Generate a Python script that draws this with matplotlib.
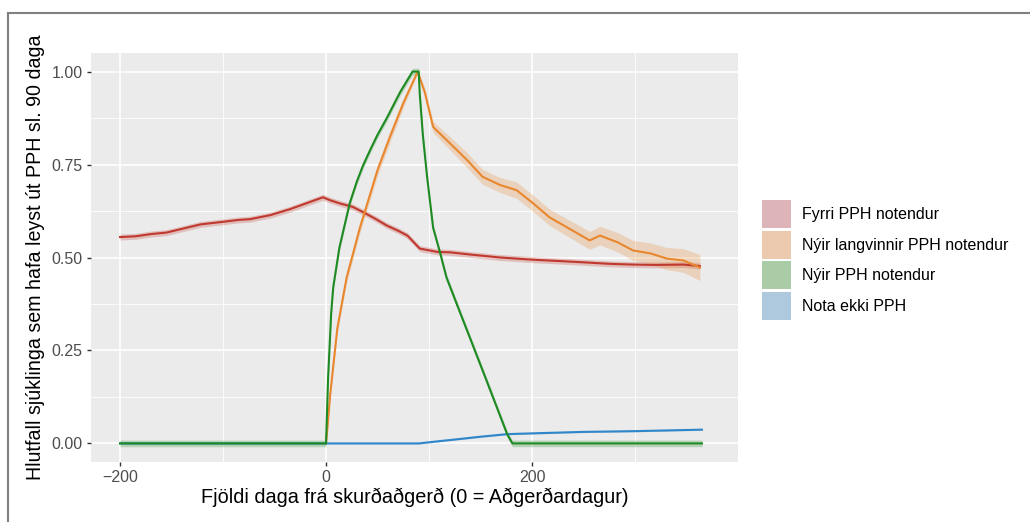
import matplotlib
matplotlib.use("Agg")
import matplotlib.pyplot as plt
import numpy as np
from matplotlib.patches import Rectangle
from matplotlib.lines import Line2D

plt.rcParams['font.family'] = ['Liberation Sans', 'DejaVu Sans']

# Fyrri PPH notendur
red_days = [-200, -185, -170, -155, -140, -122, -100, -85, -74, -54, -35, -15, -3,
            4, 14, 26, 36, 48, 59, 70, 79, 91, 108, 120, 140, 169, 201, 230, 250,
            275, 298, 320, 347, 363]
red_vals = [0.555, 0.557, 0.563, 0.567, 0.577, 0.589, 0.596, 0.601, 0.603, 0.614, 0.630, 0.650, 0.662,
            0.654, 0.645, 0.636, 0.622, 0.604, 0.586, 0.572, 0.559, 0.524, 0.515, 0.514, 0.508, 0.500,
            0.494, 0.490, 0.487, 0.483, 0.481, 0.480, 0.481, 0.477]
red_err = 0.008

# Nýir langvinnir PPH notendur
orange_days = [0, 1, 4, 11, 20, 33, 50, 62, 75, 89, 96, 104, 120, 137, 152, 169, 185,
               201, 217, 234, 256, 266, 283, 298, 315, 331, 347, 363]
orange_vals = [0.0, 0.03, 0.13, 0.31, 0.446, 0.581, 0.735, 0.824, 0.915, 1.0, 0.943, 0.851,
               0.808, 0.762, 0.717, 0.695, 0.681, 0.646, 0.608, 0.581, 0.546, 0.559, 0.541,
               0.519, 0.511, 0.497, 0.492, 0.473]
orange_err = [0.0, 0.005, 0.01, 0.012, 0.013, 0.014, 0.015, 0.015, 0.012, 0.005, 0.012, 0.015,
              0.018, 0.02, 0.02, 0.02, 0.022, 0.022, 0.022, 0.023, 0.024, 0.025, 0.026,
              0.027, 0.028, 0.03, 0.032, 0.035]

# Nýir PPH notendur
green_days = [-200, 0, 2, 5, 7, 13, 23, 30, 36, 43, 50, 59, 72, 84, 90, 91, 94, 98, 104, 111,
              117, 130, 140, 156, 176, 181, 365]
green_vals = [0.0, 0.0, 0.176, 0.35, 0.42, 0.527, 0.646, 0.705, 0.748, 0.79, 0.83, 0.875, 0.945,
              1.0, 1.0, 0.94, 0.83, 0.72, 0.58, 0.51, 0.446, 0.353, 0.282, 0.168, 0.024, 0.0, 0.0]
green_err = 0.009

# Nota ekki PPH
blue_days = [-200, 90, 120, 150, 176, 200, 250, 300, 365]
blue_vals = [0.0, 0.0, 0.009, 0.018, 0.025, 0.027, 0.031, 0.033, 0.037]
blue_err = 0.002

labels = ["Fyrri PPH notendur", "Nýir langvinnir PPH notendur", "Nýir PPH notendur", "Nota ekki PPH"]
line_cols = ["#C0392F", "#E8872E", "#1E8A22", "#2F86C9"]
fill_cols = ["#DDB4B7", "#EBCAB0", "#A9CBA6", "#AEC8DE"]

W, H = 1030, 522
fig = plt.figure(figsize=(W / 100, H / 100), dpi=100)
ax = fig.add_axes([91/W, 1-462/H, 647/W, 409/H])
ax.set_facecolor("#EBEBEB")

series = [
    (red_days, red_vals, red_err),
    (orange_days, orange_vals, orange_err),
    (blue_days, blue_vals, blue_err),
    (green_days, green_vals, green_err),
]
order = [0, 1, 3, 2]
for (d, v, e), i in zip(series, order):
    d = np.array(d, float)
    v = np.array(v, float)
    e = np.broadcast_to(np.array(e, float), v.shape)
    ax.fill_between(d, v - e, v + e, color=line_cols[i], alpha=0.25, lw=0, zorder=2)
    ax.plot(d, v, color=line_cols[i], lw=1.5, zorder=3)

ax.set_xlim(-228.2, 400)
ax.set_ylim(-0.05, 1.05)
ax.set_xticks([-200, 0, 200])
ax.set_xticklabels(["\u2212200", "0", "200"])
ax.set_xticks([-100, 100, 300], minor=True)
ax.set_yticks([0, 0.25, 0.5, 0.75, 1.0])
ax.set_yticklabels(["0.00", "0.25", "0.50", "0.75", "1.00"])
ax.set_yticks([0.125, 0.375, 0.625, 0.875], minor=True)
ax.grid(which="major", color="white", lw=1.2)
ax.grid(which="minor", color="white", lw=0.6)
ax.set_axisbelow(True)
for s in ax.spines.values():
    s.set_visible(False)
ax.tick_params(which="major", length=3, width=1, color="#333333", labelcolor="#4D4D4D",
               labelsize=11.5, pad=3)
ax.tick_params(which="minor", length=0)

ax.set_xlabel("Fjöldi daga frá skurðaðgerð (0 = Aðgerðardagur)", fontsize=14.3, labelpad=2)
ax.set_ylabel("Hlutfall sjúklinga sem hafa leyst út PPH sl. 90 daga", fontsize=14.1, labelpad=5)

# legend, drawn by hand
for k, (lab, c) in enumerate(zip(labels, fill_cols)):
    top = 200 + k * 30.7
    fig.add_artist(Rectangle((762/W, 1-(top+28)/H), 29/W, 28/H, facecolor=c,
                             edgecolor="none", transform=fig.transFigure))
    fig.text(802/W, 1-(top+14.5)/H, lab, fontsize=11.5, va="center", ha="left")

# outer frame
fig.add_artist(Line2D([8/W, 1], [1-13/H, 1-13/H], color="#808080", lw=1.5))
fig.add_artist(Line2D([8/W, 8/W], [0, 1-13/H], color="#808080", lw=1.5))

fig.savefig("out.png", dpi=100)
